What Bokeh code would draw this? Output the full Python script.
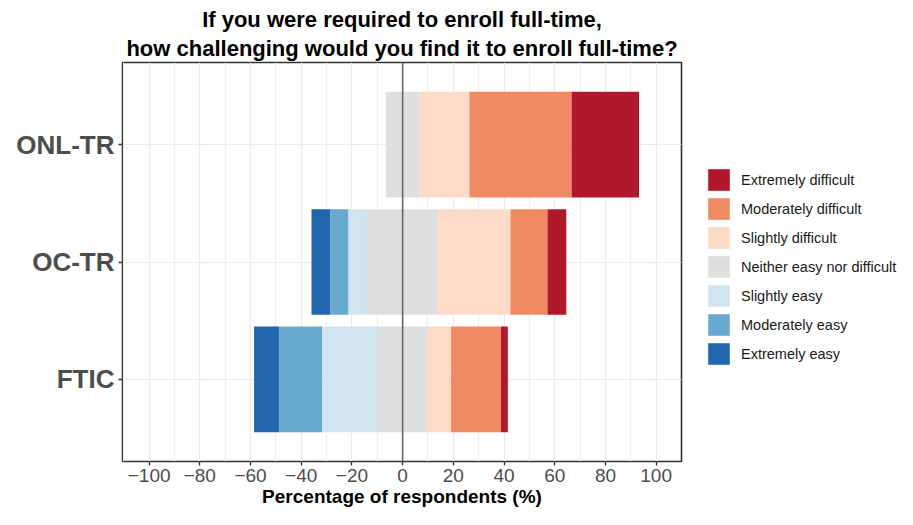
import numpy as np
from bokeh.plotting import figure
from bokeh.layouts import row
from bokeh.models import FactorRange, Range1d, ColumnDataSource, Legend, LegendItem, Span, FixedTicker, Title
from bokeh.embed import file_html
from bokeh.resources import INLINE

categories = ["FTIC", "OC-TR", "ONL-TR"]
levels = ["Extremely easy", "Moderately easy", "Slightly easy",
          "Neither easy nor difficult",
          "Slightly difficult", "Moderately difficult", "Extremely difficult"]
colors = ["#2166AC", "#67A9CF", "#D1E5F0", "#DFDFDF", "#FDDBC7", "#EF8A62", "#B2182B"]

extremely_easy = [9.8, 7.5, 0.0]
moderately_easy = [17.1, 7.1, 0.0]
slightly_easy = [22.0, 7.3, 0.0]
neutral = [19.4, 28.1, 13.3]
slightly_difficult = [9.4, 28.5, 19.7]
moderately_difficult = [19.7, 14.6, 40.3]
extremely_difficult = [2.7, 7.4, 26.6]

x_ticks = [-100, -80, -60, -40, -20, 0, 20, 40, 60, 80, 100]
x_tick_labels = ["\u2212100", "\u221280", "\u221260", "\u221240", "\u221220", "0", "20", "40", "60", "80", "100"]
x_minor = [-110, -90, -70, -50, -30, -10, 10, 30, 50, 70, 90, 110]

title_line1 = "If you were required to enroll full-time,"
title_line2 = "how challenging would you find it to enroll full-time?"
x_title = "Percentage of respondents (%)"
FONT = "Liberation Sans"

# stacking (diverging, neutral split around 0)
half = np.array(neutral) / 2.0
neg_vals = [np.array(slightly_easy), np.array(moderately_easy), np.array(extremely_easy)]
pos_vals = [np.array(slightly_difficult), np.array(moderately_difficult), np.array(extremely_difficult)]

bounds = {}
bounds["Neither easy nor difficult"] = (-half, half)
right_edge = -half
for name, v in zip(["Slightly easy", "Moderately easy", "Extremely easy"], neg_vals):
    bounds[name] = (right_edge - v, right_edge)
    right_edge = right_edge - v
left_edge = half
for name, v in zip(["Slightly difficult", "Moderately difficult", "Extremely difficult"], pos_vals):
    bounds[name] = (left_edge, left_edge + v)
    left_edge = left_edge + v

p = figure(width=684, height=509, output_backend="svg", toolbar_location=None,
           y_range=FactorRange(factors=categories, range_padding=0.2, range_padding_units="absolute"),
           x_range=Range1d(-110.5, 110),
           min_border_left=122, min_border_right=3, min_border_top=62, min_border_bottom=46)

sources = {}
for name, col in zip(levels, colors):
    l, r = bounds[name]
    src = ColumnDataSource(dict(y=categories, left=list(l), right=list(r)))
    sources[name] = src
    p.hbar(y="y", left="left", right="right", height=0.9, source=src,
           fill_color=col, line_color=None)

p.add_layout(Span(location=0, dimension="height", line_color="#666666", line_width=1.6))

# grid
p.xaxis.ticker = FixedTicker(ticks=x_ticks, minor_ticks=x_minor)
p.xgrid.grid_line_color = "#EBEBEB"
p.xgrid.grid_line_width = 1.2
p.xgrid.minor_grid_line_color = "#EDEDED"
p.xgrid.minor_grid_line_width = 1.2
p.ygrid.grid_line_color = "#EBEBEB"
p.ygrid.grid_line_width = 1.2

p.outline_line_color = "#333333"
p.outline_line_width = 1.6
p.background_fill_color = "white"
p.border_fill_color = "white"

# axes
for ax in (p.xaxis[0], p.yaxis[0]):
    ax.axis_line_color = None
    ax.major_tick_line_color = "#333333"
    ax.major_tick_line_width = 1.3
    ax.major_tick_out = 4
    ax.major_tick_in = 0
    ax.minor_tick_line_color = None
    ax.major_label_text_font = FONT
    ax.major_label_text_color = "#4D4D4D"

p.xaxis.major_label_overrides = {t: s for t, s in zip(x_ticks, x_tick_labels)}
p.xaxis.major_label_text_font_size = "19px"
p.xaxis.major_label_standoff = 3
p.xaxis.axis_label = x_title
p.xaxis.axis_label_text_font = FONT
p.xaxis.axis_label_text_font_size = "19px"
p.xaxis.axis_label_text_font_style = "bold"
p.xaxis.axis_label_text_color = "black"
p.xaxis.axis_label_standoff = 1

p.yaxis.major_label_text_font_size = "26px"
p.yaxis.major_label_text_font_style = "bold"
p.yaxis.major_label_standoff = 4

# titles (two centered lines; later-added title sits closer to the frame)
p.title.text = title_line1
p.title.align = "center"
p.title.text_font = FONT
p.title.text_font_size = "22px"
p.title.text_font_style = "bold"
p.title.text_color = "black"
p.title.standoff = 0
t2 = Title(text=title_line2, align="center", text_font=FONT, text_font_size="22px",
           text_font_style="bold", text_color="black", standoff=4)
p.add_layout(t2, "above")

# legend in a companion panel (same sources; its ranges exclude the bars)
lg = figure(width=213, height=509, output_backend="svg", toolbar_location=None,
            x_range=Range1d(150, 250), y_range=FactorRange(factors=["legend"]),
            x_axis_location=None, y_axis_location=None,
            min_border=0)
lg.outline_line_color = None
lg.grid.visible = False
lg.background_fill_color = "white"
lg.border_fill_color = "white"
items = []
for name, col in zip(levels, colors):
    r = lg.hbar(y="y", left="left", right="right", height=0.9, source=sources[name],
                fill_color=col, line_color=None)
    items.append(LegendItem(label=name, renderers=[r], index=0))
items = items[::-1]
legend = Legend(items=items, location=(21, 94))
legend.glyph_width = 27
legend.glyph_height = 27
legend.spacing = 2
legend.label_standoff = 9
legend.padding = 0
legend.margin = 0
legend.border_line_color = None
legend.background_fill_alpha = 0
legend.label_text_font = FONT
legend.label_text_font_size = "14.5px"
legend.label_text_color = "#1A1A1A"
lg.add_layout(legend, "center")

layout = row(p, lg)
open("out.html", "w").write(file_html(layout, INLINE))
